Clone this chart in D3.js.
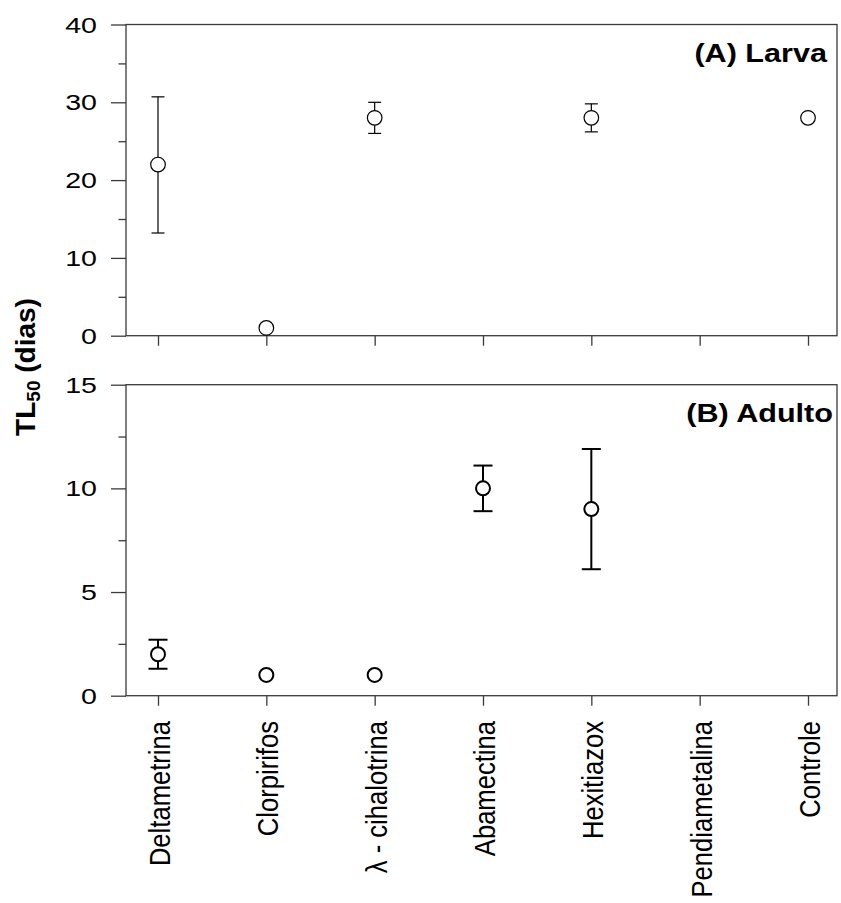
<!DOCTYPE html>
<html><head><meta charset="utf-8">
<script src="https://cdn.jsdelivr.net/npm/d3@7"></script>
<style>body{margin:0;background:#fff}svg{display:block}text{font-family:"Liberation Sans",Arial,sans-serif}</style>
</head><body>
<script>
const categories = ["Deltametrina","Clorpirifos","\u03BB - cihalotrina","Abamectina","Hexitiazox","Pendiametalina","Controle"];
// Panel A (Larva): TL50 and error limits (null = no data / no bar)
const larvaValues = [22, 1, 28, null, 28, null, 28];
const larvaLow    = [13.2, null, 26, null, 26.2, null, null];
const larvaHigh   = [30.7, null, 30, null, 29.8, null, null];
// Panel B (Adulto)
const adultoValues = [2, 1, 1, 10, 9, null, null];
const adultoLow    = [1.3, null, null, 8.9, 6.1, null, null];
const adultoHigh   = [2.7, null, null, 11.1, 11.9, null, null];
const larvaTicks = [0,10,20,30,40];
const larvaMinor = [5,15,25,35];
const adultoTicks = [0,5,10,15];
const adultoMinor = [2.5,7.5,12.5];

const W=841,H=903;
const svg=d3.select("body").append("svg").attr("width",W).attr("height",H);
const L=126,R=837;
const x=d3.scalePoint().domain(categories).range([158,808]);
const frameColor="#3a3a3a";
const SX=1.27; // horizontal stretch of the reference's text

function panel(top,bottom,domainMax,ticks,minor,vals,lo,hi,title,titleEnd,lw,cap,r){
  const y=d3.scaleLinear().domain([0,domainMax]).range([bottom,top]);
  const g=svg.append("g");
  const ya=g.append("g").attr("transform",`translate(${L},0)`)
    .call(d3.axisLeft(y).tickValues(ticks).tickSize(15).tickFormat("").tickSizeOuter(0));
  ya.select(".domain").remove();
  ya.selectAll("line").attr("stroke",frameColor).attr("stroke-width",1.3);
  const ym=g.append("g").attr("transform",`translate(${L},0)`)
    .call(d3.axisLeft(y).tickValues(minor).tickSize(7.5).tickFormat(""));
  ym.select(".domain").remove();
  ym.selectAll("line").attr("stroke",frameColor).attr("stroke-width",1.3);
  g.selectAll("text.tl").data(ticks).enter().append("text").attr("class","tl")
    .attr("transform",d=>`translate(97,${y(d)}) scale(${SX},1)`)
    .attr("text-anchor","end").attr("dy","0.36em").attr("font-size",22.5).attr("fill","#000").text(d=>d);
  const xa=g.append("g").attr("transform",`translate(0,${bottom})`)
    .call(d3.axisBottom(x).tickSize(10).tickFormat(""));
  xa.select(".domain").remove();
  xa.selectAll("line").attr("stroke",frameColor).attr("stroke-width",1.3);
  g.append("rect").attr("x",L).attr("y",top).attr("width",R-L).attr("height",bottom-top)
    .attr("fill","none").attr("stroke",frameColor).attr("stroke-width",1.3);
  categories.forEach((c,i)=>{
    if(vals[i]==null) return;
    const cx=x(c);
    if(lo[i]!=null&&hi[i]!=null){
      g.append("line").attr("x1",cx).attr("x2",cx).attr("y1",y(lo[i])).attr("y2",y(hi[i])).attr("stroke","#000").attr("stroke-width",lw);
      [lo[i],hi[i]].forEach(v=>g.append("line").attr("x1",cx-cap).attr("x2",cx+cap).attr("y1",y(v)).attr("y2",y(v)).attr("stroke","#000").attr("stroke-width",lw));
    }
  });
  g.selectAll("circle.pt").data(categories.map((c,i)=>({c,v:vals[i]})).filter(d=>d.v!=null)).enter()
    .append("circle").attr("class","pt").attr("cx",d=>x(d.c)).attr("cy",d=>y(d.v)).attr("r",r)
    .attr("fill","#fff").attr("stroke","#000").attr("stroke-width",lw);
  g.append("text").attr("transform",`translate(${titleEnd},${top+37.5}) scale(1.2,1)`).attr("text-anchor","end")
    .attr("font-size",25.5).attr("font-weight","bold").text(title);
}
panel(24.5,335.7,40,larvaTicks,larvaMinor,larvaValues,larvaLow,larvaHigh,"(A) Larva",827,1.2,6.5,7.3);
panel(384.7,695.7,15,adultoTicks,adultoMinor,adultoValues,adultoLow,adultoHigh,"(B) Adulto",833,2,9.5,7);

svg.append("g").selectAll("text").data(categories).enter().append("text")
  .attr("transform",d=>`translate(${x(d)+12},721) scale(1.17,1) rotate(-90)`)
  .attr("text-anchor","end").attr("font-size",25.6).text(d=>d);

const yt=svg.append("text").attr("transform","translate(35,367) rotate(-90)")
  .attr("text-anchor","middle").attr("font-size",28).attr("font-weight","bold");
yt.append("tspan").text("TL");
yt.append("tspan").attr("font-size",19).attr("dy",5).text("50");
yt.append("tspan").attr("dy",-5).text(" (dias)");
</script>
</body></html>
